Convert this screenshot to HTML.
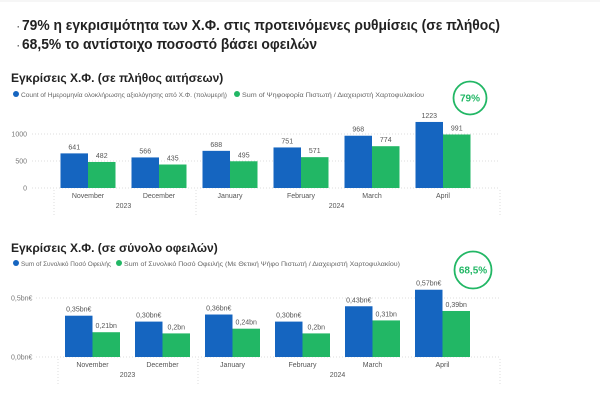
<!DOCTYPE html>
<html><head><meta charset="utf-8"><style>
html,body{margin:0;padding:0;background:#fff;}
svg{display:block;font-family:"Liberation Sans","DejaVu Sans",sans-serif;}
</style></head><body>
<svg id="s" width="600" height="411" viewBox="0 0 600 411" xmlns="http://www.w3.org/2000/svg">
<rect width="600" height="411" fill="#fff"/>
<line x1="0" y1="1" x2="600" y2="1" stroke="#eee"/>
<g font-weight="bold" font-size="15" fill="#222">
<text x="17" y="30" font-size="9" fill="#555">·</text>
<text x="22" y="30" textLength="478" lengthAdjust="spacingAndGlyphs">79% η εγκρισιμότητα των Χ.Φ. στις προτεινόμενες ρυθμίσεις (σε πλήθος)</text>
<text x="17" y="49" font-size="9" fill="#555">·</text>
<text x="22" y="49" textLength="295" lengthAdjust="spacingAndGlyphs">68,5% το αντίστοιχο ποσοστό βάσει οφειλών</text>
</g>
<g id="c1"></g>
<g id="c2"></g>
</svg>
<script>
const months = ["November","December","January","February","March","April"];
const countTotal = [641,566,688,751,968,1223];
const countApproved = [482,435,495,571,774,991];
const countTicks = [0,500,1000];
const amountTotal = [0.35,0.30,0.36,0.30,0.43,0.57];
const amountApproved = [0.21,0.20,0.24,0.20,0.31,0.39];
const amountTotalLabels = ["0,35bn€","0,30bn€","0,36bn€","0,30bn€","0,43bn€","0,57bn€"];
const amountApprovedLabels = ["0,21bn","0,2bn","0,24bn","0,2bn","0,31bn","0,39bn"];
const amountTicks = [0,0.5];
const amountTickLabels = ["0,0bn€","0,5bn€"];

const NS="http://www.w3.org/2000/svg";
function mk(p,tag,attrs,txt){const e=document.createElementNS(NS,tag);for(const k in attrs)e.setAttribute(k,attrs[k]);if(txt!==undefined)e.textContent=txt;p.appendChild(e);return e;}
const BLUE="#1565c0",GREEN="#22b765";

function chart(g,cfg){
  const y=v=>cfg.y0-(v/cfg.vmax)*(cfg.y0-cfg.yTop);
  const x=i=>cfg.x0+i*cfg.step;
  let t=mk(g,"text",{x:cfg.titleX,y:cfg.titleY,"font-size":"12","font-weight":"bold",fill:"#222"},cfg.title);
  
  
  let c=mk(g,"circle",{cx:16,cy:cfg.legY-3,r:3,fill:BLUE});
  
  
  t=mk(g,"text",{x:21,y:cfg.legY,"font-size":"6.6",fill:"#666",textLength:cfg.leg1W,lengthAdjust:"spacingAndGlyphs"},cfg.leg1);
  
  
  c=mk(g,"circle",{cx:cfg.leg2X-5,cy:cfg.legY-3,r:3,fill:GREEN});
  
  
  t=mk(g,"text",{x:cfg.leg2X,y:cfg.legY,"font-size":"6.6",fill:"#666",textLength:cfg.leg2W,lengthAdjust:"spacingAndGlyphs"},cfg.leg2);
  
  
  cfg.ticks.forEach((v,i)=>{
    const l=mk(g,"line",{x1:cfg.gx0,x2:500,y1:y(v),y2:y(v),stroke:"#ddd","stroke-dasharray":"1,2"});
    
    
    const tt=mk(g,"text",{x:cfg.tickX,y:y(v)+2.5,"font-size":"7",fill:"#777","text-anchor":cfg.tickAnchor},cfg.tickLabels[i]);
    
    
  });
  [cfg.sep0,cfg.sep0+2*cfg.step,500].forEach(sx=>{
    const l=mk(g,"line",{x1:sx,x2:sx,y1:cfg.y0+2,y2:cfg.y0+28,stroke:"#ddd","stroke-dasharray":"1,2"});
    
    
  });
  const bw=27.5;
  months.forEach((m,i)=>{
    const cx=x(i);
    const b1=mk(g,"rect",{x:cx-bw,y:y(cfg.a[i]),width:bw,height:cfg.y0-y(cfg.a[i]),fill:BLUE});
    
    
    const b2=mk(g,"rect",{x:cx,y:y(cfg.b[i]),width:bw,height:cfg.y0-y(cfg.b[i]),fill:GREEN});
    
    
    let l=mk(g,"text",{x:cx-bw/2,y:y(cfg.a[i])-4,"font-size":"7",fill:"#555","text-anchor":"middle"},cfg.la[i]);
    
    
    l=mk(g,"text",{x:cx+bw/2,y:y(cfg.b[i])-4,"font-size":"7",fill:"#555","text-anchor":"middle"},cfg.lb[i]);
    
    
    l=mk(g,"text",{x:cx,y:cfg.y0+10,"font-size":"7",fill:"#555","text-anchor":"middle"},m);
    
    
  });
  let yr=mk(g,"text",{x:(x(0)+x(1))/2,y:cfg.y0+20,"font-size":"7",fill:"#555","text-anchor":"middle"},"2023");
  
  
  yr=mk(g,"text",{x:(x(2)+x(5))/2,y:cfg.y0+20,"font-size":"7",fill:"#555","text-anchor":"middle"},"2024");
  
  
  const k=mk(g,"circle",{cx:cfg.kx,cy:cfg.ky,r:cfg.kr,fill:"#fff",stroke:GREEN,"stroke-width":"1.8"});
  
  
  const kt=mk(g,"text",{x:cfg.kx,y:cfg.ky+3.5,"font-size":"10","font-weight":"bold",fill:GREEN,"text-anchor":"middle"},cfg.kpi);
  
  
}

chart(document.getElementById("c1"),{
  title:"Εγκρίσεις Χ.Φ. (σε πλήθος αιτήσεων)",titleX:11,titleY:82,legY:97,
  leg1:"Count of Ημερομηνία ολοκλήρωσης αξιολόγησης από Χ.Φ. (πολυμερή)",leg1W:206,
  leg2:"Sum of Ψηφοφορία Πιστωτή / Διαχειριστή Χαρτοφυλακίου",leg2X:242,leg2W:182,
  y0:188,yTop:134,vmax:1000,ticks:countTicks,tickLabels:countTicks.map(String),tickX:27,tickAnchor:"end",gx0:32,
  x0:88,step:71,sep0:54,a:countTotal,b:countApproved,la:countTotal.map(String),lb:countApproved.map(String),
  kx:470,ky:98,kr:16.5,kpi:"79%"
});
chart(document.getElementById("c2"),{
  title:"Εγκρίσεις Χ.Φ. (σε σύνολο οφειλών)",titleX:11,titleY:252,legY:266,
  leg1:"Sum of Συνολικό Ποσό Οφειλής",leg1W:90,
  leg2:"Sum of Συνολικό Ποσό Οφειλής (Με Θετική Ψήφο Πιστωτή / Διαχειριστή Χαρτοφυλακίου)",leg2X:124,leg2W:276,
  y0:357,yTop:298,vmax:0.5,ticks:amountTicks,tickLabels:amountTickLabels,tickX:11,tickAnchor:"start",gx0:36,
  x0:92.5,step:70,sep0:58,a:amountTotal,b:amountApproved,la:amountTotalLabels,lb:amountApprovedLabels,
  kx:473,ky:270,kr:18.5,kpi:"68,5%"
});
</script>
</body></html>
